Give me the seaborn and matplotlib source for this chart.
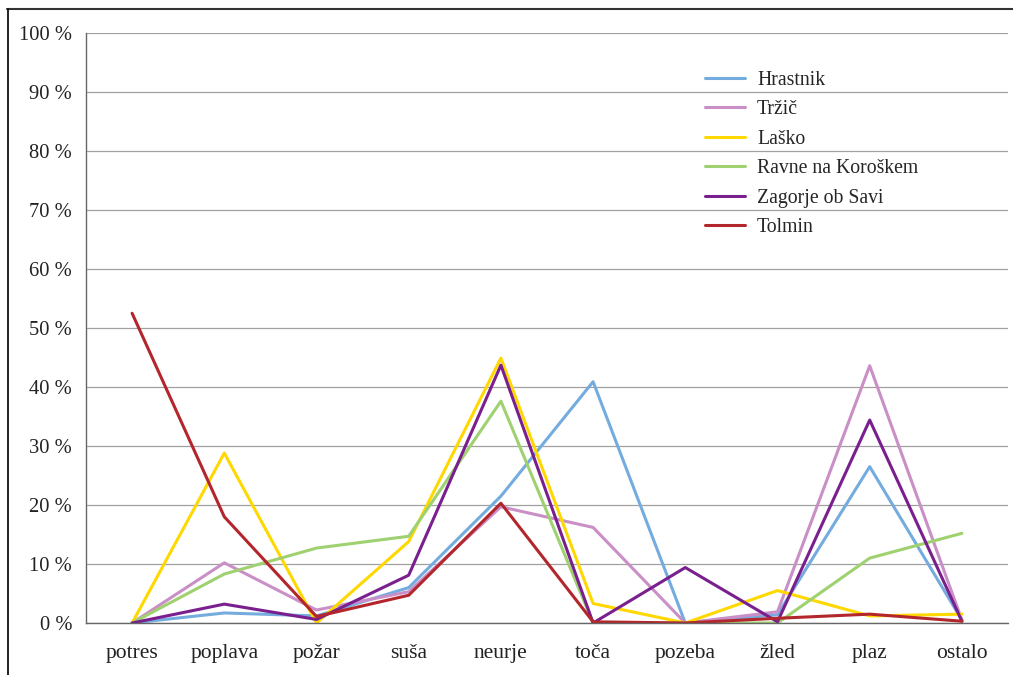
import matplotlib
matplotlib.use("Agg")
import matplotlib.pyplot as plt
from matplotlib.lines import Line2D
import seaborn as sns
import pandas as pd

categories = ["potres", "poplava", "požar", "suša", "neurje", "toča", "pozeba", "žled", "plaz", "ostalo"]
hrastnik = [0.0, 1.7, 1.2, 6.0, 21.5, 40.9, 0.0, 1.4, 26.5, 0.5]
trzic = [0.0, 10.2, 2.2, 5.3, 19.7, 16.2, 0.0, 1.9, 43.6, 0.5]
lasko = [0.0, 28.8, 0.0, 13.8, 44.9, 3.3, 0.0, 5.5, 1.2, 1.5]
ravne = [0.0, 8.3, 12.7, 14.7, 37.6, 0.0, 0.0, 0.0, 11.0, 15.2]
zagorje = [0.0, 3.2, 0.6, 8.1, 43.7, 0.0, 9.4, 0.2, 34.4, 0.3]
tolmin = [52.5, 18.0, 1.1, 4.7, 20.3, 0.2, 0.0, 0.8, 1.5, 0.3]

series_names = ["Hrastnik", "Tržič", "Laško", "Ravne na Koroškem", "Zagorje ob Savi", "Tolmin"]
series_values = [hrastnik, trzic, lasko, ravne, zagorje, tolmin]
colors = ["#74acdf", "#c98fc6", "#ffd800", "#9fd170", "#7a1f8e", "#b3262c"]
y_ticks = [0, 10, 20, 30, 40, 50, 60, 70, 80, 90, 100]
y_tick_labels = [f"{v} %" for v in y_ticks]

rows = []
for name, vals in zip(series_names, series_values):
    for i, (c, v) in enumerate(zip(categories, vals)):
        rows.append({"kat": i, "kategorija": c, "serija": name, "vrednost": v})
df = pd.DataFrame(rows)

sns.set_style("white")
plt.rcParams["font.family"] = ["Liberation Serif", "DejaVu Serif"]

fig = plt.figure(figsize=(10.13, 6.75), dpi=100)
ax = fig.add_axes([86 / 1013, 52 / 675, (1008 - 86) / 1013, (623 - 33) / 675])

sns.lineplot(data=df, x="kat", y="vrednost", hue="serija", hue_order=series_names,
             palette=colors, linewidth=2.2, ax=ax, legend=True, sort=False)

ax.set_xlim(-0.5, len(categories) - 0.5)
ax.set_ylim(0, 100)
ax.set_xticks(range(len(categories)))
ax.set_xticklabels(categories, fontsize=15.5, color="#222222")
ax.set_yticks(y_ticks)
ax.set_yticklabels(y_tick_labels, fontsize=14.8, color="#222222")
ax.set_xlabel("")
ax.set_ylabel("")

ax.grid(axis="y", color="#a0a0a0", linewidth=0.9)
ax.set_axisbelow(True)
for s in ["top", "right"]:
    ax.spines[s].set_visible(False)
ax.spines["left"].set_color("#666666")
ax.spines["bottom"].set_color("#666666")
ax.spines["left"].set_linewidth(1.0)
ax.spines["bottom"].set_linewidth(1.0)
ax.tick_params(axis="both", which="both", length=5, width=0.9, color="#666666", direction="out")
ax.tick_params(axis="x", pad=10)
ax.tick_params(axis="y", pad=5)

leg = ax.legend(loc="upper left", bbox_to_anchor=(687 / 1013, 1 - 53 / 675),
                bbox_transform=fig.transFigure, frameon=False, fontsize=14.2,
                handlelength=2.05, handletextpad=0.6, labelspacing=0.53, title=None)
for h in leg.get_lines():
    h.set_linewidth(2.2)

fig.add_artist(Line2D([7 / 1013, 1.0], [1 - 9 / 675, 1 - 9 / 675], color="#333333", linewidth=1.5,
                      transform=fig.transFigure))
fig.add_artist(Line2D([8 / 1013, 8 / 1013], [0.0, 1 - 9 / 675], color="#111111", linewidth=1.3,
                      transform=fig.transFigure))

fig.savefig("out.png", dpi=100)
